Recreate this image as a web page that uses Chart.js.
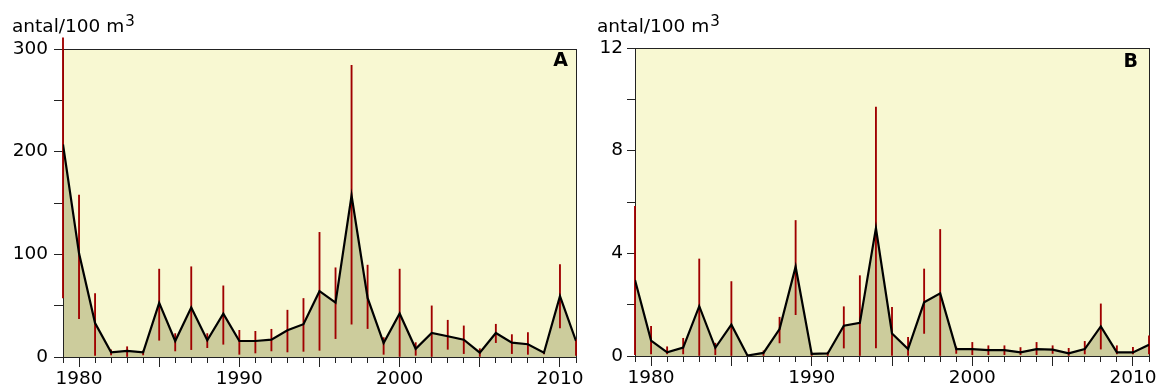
<!DOCTYPE html>
<html><head><meta charset="utf-8">
<script src="https://cdn.jsdelivr.net/npm/chart.js@4.4.1/dist/chart.umd.min.js"></script>
<style>
body{margin:0;width:1162px;height:388px;background:#fff;position:relative;overflow:hidden;font-family:"DejaVu Sans",sans-serif}
canvas{position:absolute;top:0}
#ca{left:0;z-index:2}
#cb{left:581px;z-index:1}
.ttl{position:absolute;font-size:18.5px;line-height:20px;white-space:nowrap;color:#000;z-index:3}
.ttl span{font-size:15px;position:relative;top:-6px;margin-left:1px}
.lab{position:absolute;font-weight:bold;font-size:19px;line-height:20px;color:#000;z-index:3}
</style></head><body>
<canvas id="ca" width="600" height="388"></canvas>
<canvas id="cb" width="581" height="388"></canvas>
<div class="ttl" style="left:12px;top:16px">antal/100 m<span>3</span></div>
<div class="ttl" style="left:597px;top:16px">antal/100 m<span>3</span></div>
<div class="lab" style="right:594px;top:49px">A</div>
<div class="lab" style="right:24px;top:50px">B</div>
<script>
const years = [1979,1980,1981,1982,1983,1984,1985,1986,1987,1988,1989,1990,1991,1992,1993,1994,1995,1996,1997,1998,1999,2000,2001,2002,2003,2004,2005,2006,2007,2008,2009,2010,2011];

const meanA = [207,101,33,4.5,6,4.5,52.7,15.6,48.2,16.3,42.3,15.6,15.6,16.9,26,31.9,64.1,53,157.2,57.6,13.5,42.3,8,23.4,20.2,16.9,4.2,23.4,14,12.4,4.2,59.2,15.6];
const lowA  = [57.6,37.4,1.6,2,0,2,16.3,5.9,7.2,9.1,12.4,2.6,3.9,5.9,4.9,5.5,6.5,17.9,31.9,27.7,2.6,0,1.6,0,7.5,3.3,0,14,3.3,2.6,3,28.3,1.6];
const highA = [310.8,157.8,61.8,7,10,6,85.6,22.8,87.9,22.8,69.3,26,25,27,45.6,57,121.4,86.9,284,89.5,18.9,85.6,14,49.8,35.8,30.3,8.1,31.9,21.8,23.8,5.5,90.1,16.9];

const meanB = [2.96,0.6,0.14,0.33,1.94,0.32,1.22,0.02,0.12,1.05,3.48,0.08,0.1,1.18,1.29,4.98,0.88,0.27,2.09,2.44,0.27,0.27,0.23,0.23,0.14,0.27,0.25,0.1,0.27,1.15,0.14,0.14,0.44];
const lowB  = [0.05,0.08,0.08,0.08,0,0.05,0,0,0,0.51,1.61,0,0,0.31,0,0.31,0,0,0.88,0,0.1,0.05,0.05,0.05,0.05,0.05,0.1,0.02,0.08,0.27,0.08,0.08,0.08];
const highB = [5.83,1.16,0.36,0.69,3.78,0.5,2.9,0.05,0.2,1.51,5.28,0.12,0.15,1.92,3.13,9.7,1.9,0.73,3.39,4.93,0.35,0.53,0.4,0.4,0.33,0.53,0.4,0.3,0.57,2.03,0.4,0.34,0.79];

const yTicksA = {max:300, step:50, labelEvery:100};
const yTicksB = {max:12, step:2, labelEvery:4};
const xLabelEvery = 10;
const xMajorEvery = 5;

const FONT = {family:'"DejaVu Sans", sans-serif', size:18.5};

const frame = {
  id:'frame',
  beforeDraw(c){
    const {ctx, chartArea:a} = c;
    ctx.save();
    ctx.fillStyle = '#F8F8D2';
    ctx.fillRect(a.left, a.top, a.right-a.left, a.bottom-a.top);
    ctx.restore();
  },
  beforeDatasetsDraw(c){
    const {ctx, chartArea:a} = c;
    ctx.save();
    ctx.strokeStyle = '#222';
    ctx.lineWidth = 1;
    ctx.strokeRect(Math.round(a.left)+0.5, Math.round(a.top)+0.5, Math.round(a.right)-Math.round(a.left), Math.round(a.bottom)-Math.round(a.top));
    ctx.restore();
  }
};

function makeChart(id, mean, low, high, yt, geom){
  new Chart(document.getElementById(id), {
    type:'line',
    data:{
      datasets:[
        {
          type:'line',
          data: years.map((y,i)=>({x:y, y:mean[i]})),
          borderColor:'#000',
          borderWidth:2.2,
          borderJoinStyle:'miter',
          backgroundColor:'#CCCC9C',
          fill:'origin',
          pointRadius:0,
          tension:0,
          order:0
        },
        {
          type:'bar',
          data: years.map((y,i)=>({x:y, y:[low[i], high[i]]})),
          backgroundColor:'#A00000',
          borderWidth:0,
          barThickness:1.2,
          clip:false,
          order:1
        }
      ]
    },
    options:{
      responsive:false,
      animation:false,
      devicePixelRatio:1,
      layout:{padding:{top:geom.top, right:geom.right, left:0, bottom:0}},
      plugins:{legend:{display:false}, tooltip:{enabled:false}, filler:{drawTime:'beforeDatasetsDraw'}},
      scales:{
        x:{
          type:'linear', min:years[0], max:years[years.length-1], offset:false,
          afterFit(s){ s.height = geom.xh; },
          ticks:{stepSize:1, maxTicksLimit:100, autoSkip:false, maxRotation:0, minRotation:0, padding:1, color:'#000', font:FONT,
            callback:v => (v % xLabelEvery === 0) ? String(v) : ''},
          grid:{drawOnChartArea:false, drawTicks:true, tickLength:10, tickColor:'#222', tickWidth:1, offset:false,
            tickBorderDash: ctx => (ctx.tick && ctx.tick.value % xMajorEvery === 0) ? [] : [5, 30]},
          border:{display:true, color:'#000', width:1}
        },
        y:{
          type:'linear', min:0, max:yt.max,
          afterFit(s){ s.width = geom.yw; },
          ticks:{stepSize:yt.step, maxTicksLimit:100, padding:geom.yp, color:'#000', font:FONT,
            callback:v => (v % yt.labelEvery === 0) ? String(v) : ''},
          grid:{drawOnChartArea:false, drawTicks:true, tickLength:geom.ytl, tickColor:'#222', tickWidth:1},
          border:{display:true, color:'#000', width:1}
        }
      }
    },
    plugins:[frame]
  });
}

makeChart('ca', meanA, lowA, highA, yTicksA, {top:49, right:24, xh:31, yw:63, yp:6, ytl:9});
makeChart('cb', meanB, lowB, highB, yTicksB, {top:48, right:13, xh:32, yw:54, yp:4, ytl:8});
</script>
</body></html>
